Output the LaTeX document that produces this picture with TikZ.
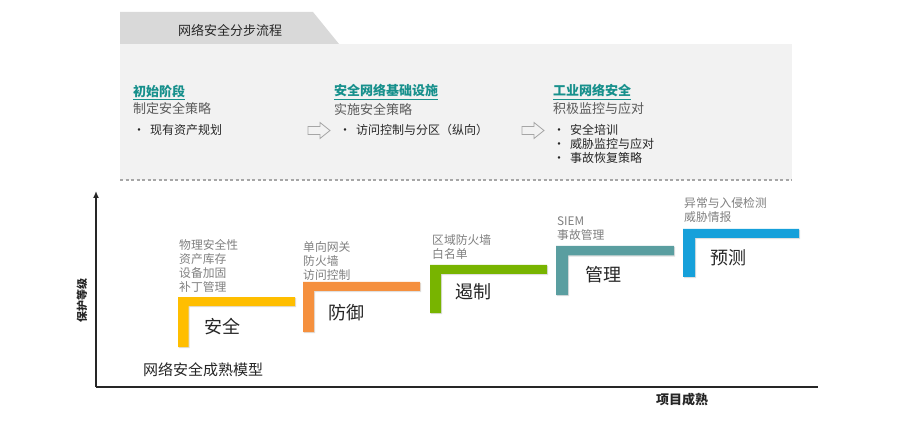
\documentclass[tikz,border=0pt]{standalone}
\usepackage{fontspec}
\setmainfont{Noto Sans CJK SC}
\usetikzlibrary{shadows,arrows.meta}
\definecolor{tabgray}{HTML}{D9D9D9}
\definecolor{panelgray}{HTML}{F2F2F2}
\definecolor{dashgray}{HTML}{A6A6A6}
\definecolor{titleteal}{HTML}{17908C}
\definecolor{subgray}{HTML}{595959}
\definecolor{darktext}{HTML}{262626}
\definecolor{labgray}{HTML}{808080}
\definecolor{cyellow}{HTML}{FFBE00}
\definecolor{corange}{HTML}{F5903E}
\definecolor{cgreen}{HTML}{78B400}
\definecolor{cteal}{HTML}{5A9EA0}
\definecolor{cblue}{HTML}{16A0DA}
\tikzset{
  stagetitle/.style={anchor=west,inner sep=0pt,text=titleteal,font=\fontsize{13}{15}\selectfont\bfseries},
  stagesub/.style={anchor=west,inner sep=0pt,text=subgray,font=\fontsize{13}{15}\selectfont},
  bulletlist/.style={anchor=north west,inner sep=0pt,text=darktext,align=left,font=\fontsize{12}{14}\selectfont},
  hollowarrow/.style={draw=dashgray,fill=panelgray,line width=0.8pt},
  steplabel/.style={anchor=north west,inner sep=0pt,text=labgray,align=left,font=\fontsize{11.8}{14}\selectfont},
  bigtext/.style={inner sep=0pt,text=darktext,font=\fontsize{18}{20}\selectfont},
  barshadow/.style={drop shadow={shadow xshift=1.2pt,shadow yshift=-1.2pt,opacity=0.25}},
  axisline/.style={line width=1.6pt,draw=darktext}
}
\begin{document}
\begin{tikzpicture}[x=1pt,y=-1pt]
\useasboundingbox (0,0) rectangle (900,422);
\fill[white] (0,0) rectangle (900,422);
% tab and panel
\fill[tabgray] (120,12) -- (313,12) -- (339,44) -- (120,44) -- cycle;
\node[inner sep=0pt,text=darktext,font=\fontsize{13}{15}\selectfont] (tab) at (230,30) {网络安全分步流程};
\fill[panelgray] (120,44) rectangle (792,180);
\draw[dashgray,line width=1.2pt,dash pattern=on 3pt off 2.5pt] (120,180) -- (792,180);
% stage 1
\node[stagetitle] (t1) at (133,92) {\underline{初始阶段}};
\node[stagesub] (s1) at (133,109) {制定安全策略};
\node[bulletlist] (b1) at (133,124.5) {•\hspace{5pt}现有资产规划};
% stage 2
\node[stagetitle] (t2) at (334,92) {\underline{安全网络基础设施}};
\node[stagesub] (s2) at (334,109) {实施安全策略};
\node[bulletlist] (b2) at (339,124.5) {•\hspace{5pt}访问控制与分区（纵向）};
% stage 3
\node[stagetitle] (t3) at (553,92) {\underline{工业网络安全}};
\node[stagesub] (s3) at (553,109) {积极监控与应对};
\node[bulletlist] (b3) at (553,124.5) {•\hspace{5pt}安全培训\\•\hspace{5pt}威胁监控与应对\\•\hspace{5pt}事故恢复策略};
% hollow arrows
\draw[hollowarrow] (308,126.5) -- (320,126.5) -- (320,122.5) -- (330,130.5) -- (320,138.5) -- (320,134.5) -- (308,134.5) -- cycle;
\draw[hollowarrow] (522,126.5) -- (534,126.5) -- (534,122.5) -- (544,130.5) -- (534,138.5) -- (534,134.5) -- (522,134.5) -- cycle;
% axes
\coordinate (origin) at (96,387);
\coordinate (ytop) at (96,191);
\coordinate (xend) at (818,387);
\draw[axisline,-{Latex[length=7pt,width=6pt]}] (origin) -- (ytop);
\draw[axisline] (origin) -- (xend);
\node[inner sep=0pt,rotate=90,text=darktext,font=\fontsize{11}{13}\selectfont\bfseries] (ylab) at (82,300) {保护等级};
\node[inner sep=0pt,text=darktext,font=\fontsize{13}{15}\selectfont\bfseries] (xlab) at (682,400) {项目成熟};
\node[inner sep=0pt,text=darktext,font=\fontsize{15}{17}\selectfont] (model) at (203,370) {网络安全成熟模型};
% steps
\fill[cyellow,barshadow] (178,297) -- (295,297) -- (295,306) -- (188.5,306) -- (188.5,347) -- (178,347) -- cycle;
\fill[corange,barshadow] (303,282) -- (420,282) -- (420,291) -- (314,291) -- (314,332) -- (303,332) -- cycle;
\fill[cgreen,barshadow] (430,265) -- (547,265) -- (547,274) -- (441,274) -- (441,313) -- (430,313) -- cycle;
\fill[cteal,barshadow] (556,246) -- (674,246) -- (674,255.5) -- (568,255.5) -- (568,295) -- (556,295) -- cycle;
\fill[cblue,barshadow] (683,229) -- (799,229) -- (799,238) -- (695,238) -- (695,277) -- (683,277) -- cycle;
\node[bigtext] (k1) at (222,327) {安全};
\node[bigtext] (k2) at (346,313) {防御};
\node[bigtext] (k3) at (473,292) {遏制};
\node[bigtext] (k4) at (603,275) {管理};
\node[bigtext] (k5) at (728,258) {预测};
\node[steplabel] (l1) at (179,239) {物理安全性\\资产库存\\设备加固\\补丁管理};
\node[steplabel] (l2) at (303,241) {单向网关\\防火墙\\访问控制};
\node[steplabel] (l3) at (432,234) {区域防火墙\\白名单};
\node[steplabel] (l4) at (557,216) {SIEM\\事故管理};
\node[steplabel] (l5) at (684,197) {异常与入侵检测\\威胁情报};
\end{tikzpicture}
\end{document}
